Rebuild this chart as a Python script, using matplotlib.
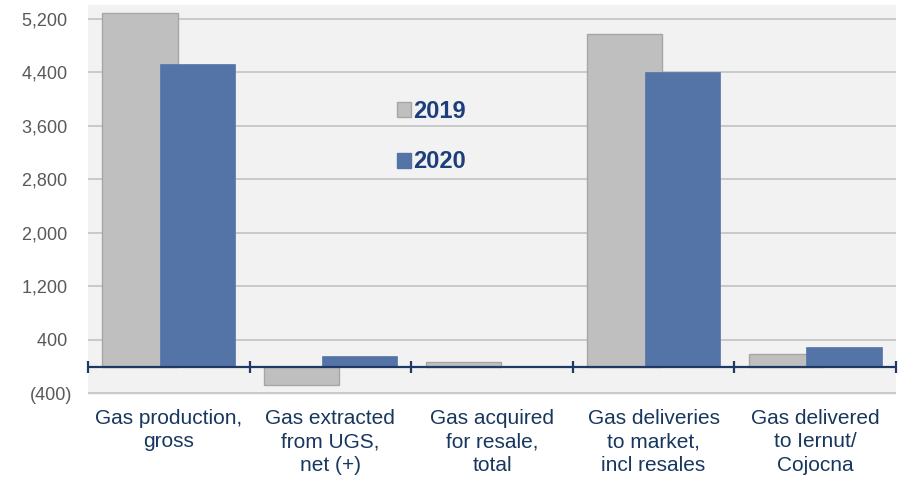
import numpy as np
import matplotlib.pyplot as plt
from matplotlib.patches import Patch
from matplotlib.ticker import FuncFormatter

plt.rcParams['font.family'] = ['Liberation Sans', 'DejaVu Sans']

# data
categories = ["Gas production,\ngross", "Gas extracted\nfrom UGS,\nnet (+)",
              "Gas acquired\nfor resale,\ntotal", "Gas deliveries\nto market,\nincl resales",
              "Gas delivered\nto Iernut/\nCojocna"]
vals_2019 = [5285, -270, 65, 4970, 185]
vals_2020 = [4530, 155, 5, 4410, 290]
yticks = [-400, 400, 1200, 2000, 2800, 3600, 4400, 5200]

grey = "#bfbfbf"
blue = "#5474a8"
navy = "#1f3864"

fig = plt.figure(figsize=(8.99, 4.79), dpi=100)
ax = fig.add_axes([88 / 899, 1 - 395 / 479, 808 / 899, 390 / 479])
ax.set_facecolor("#f2f2f2")

x = np.arange(len(categories))
off, w = 0.178, 0.465
ax.bar(x - off, vals_2019, w, color=grey, edgecolor="#a6a6a6", linewidth=1, zorder=2)
ax.bar(x + off, vals_2020, w, color=blue, edgecolor=blue, linewidth=0.5, zorder=3)

ax.set_xlim(-0.5, len(categories) - 0.5)
ax.set_ylim(-425, 5409)


def fmt(v, p):
    # accounting style: negatives in brackets, positives padded
    return f"({abs(v):,.0f})" if v < 0 else f"{v:,.0f} "


ax.set_yticks(yticks)
ax.yaxis.set_major_formatter(FuncFormatter(fmt))
ax.grid(axis="y", color="#c9c9c9", linewidth=1.4, zorder=0)
ax.set_axisbelow(True)
ax.tick_params(axis="y", length=0, pad=11.5, labelsize=13, labelcolor="#595959")

# category labels
ax.set_xticks(x)
ax.set_xticklabels(categories, fontsize=15, color="#17375e", linespacing=1.3)
ax.tick_params(axis="x", length=0, pad=10)

for s in ax.spines.values():
    s.set_visible(False)

# zero axis with separators
ax.axhline(0, color=navy, linewidth=1.6, zorder=4)
bounds = np.arange(len(categories) + 1) - 0.5
ax.vlines(bounds, -90, 90, color=navy, linewidth=1.6, zorder=4, clip_on=False)

handles = [Patch(facecolor=grey, edgecolor="#a6a6a6", label="2019"),
           Patch(facecolor=blue, edgecolor=blue, label="2020")]
leg = fig.legend(handles=handles, loc="upper left", bbox_to_anchor=(385 / 899, 1 - 88 / 479),
                 frameon=False, borderpad=0, handlelength=0.6, handleheight=0.6,
                 handletextpad=0.1, labelspacing=1.17,
                 prop={"size": 17, "weight": "bold"})
for t in leg.get_texts():
    t.set_color("#1c3f7c")

fig.savefig("out.png", dpi=100, facecolor="white")
